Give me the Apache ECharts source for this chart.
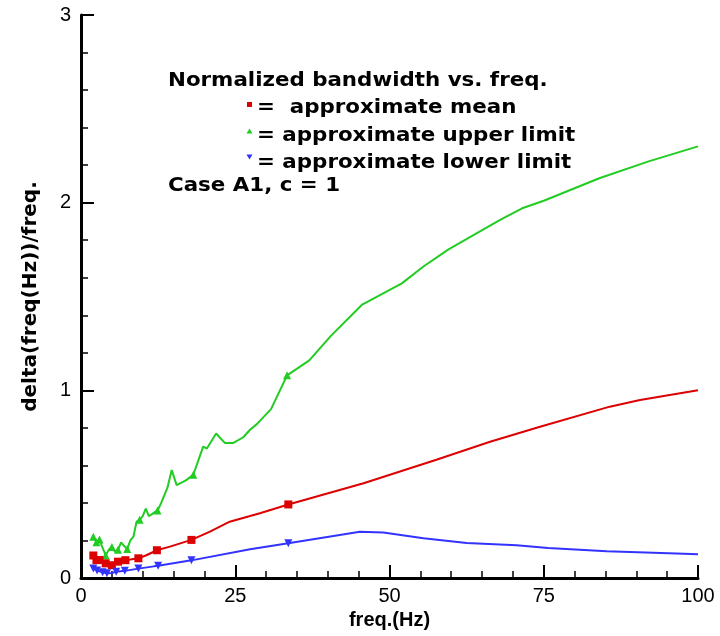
<!DOCTYPE html>
<html>
<head>
<meta charset="utf-8">
<script src="https://cdn.jsdelivr.net/npm/echarts@6/dist/echarts.min.js"></script>
<style>html,body{margin:0;padding:0;background:#fff}#c{width:720px;height:636px}</style>
</head>
<body>
<div id="c"></div>
<script>
// Upper limit (green)
var upperFreq = [2.0,2.5,3.0,3.5,4.0,4.5,5.0,5.5,6.0,6.5,7.0,7.5,8.0,8.5,9.0,9.5,10.0,10.5,11.0,11.5,12.4,13.0,14.0,14.7,15.5,17.0,18.2,19.8,20.4,21.9,23.3,24.7,26.3,27.4,28.5,30.8,33.4,37.0,40.5,45.5,52.0,55.5,59.5,68.0,71.5,75.0,84.0,92.0,100.0];
var upperVal  = [0.22,0.19,0.205,0.16,0.12,0.15,0.165,0.14,0.15,0.19,0.17,0.155,0.20,0.22,0.30,0.31,0.33,0.37,0.33,0.34,0.36,0.40,0.48,0.575,0.495,0.52,0.55,0.70,0.69,0.77,0.72,0.72,0.75,0.79,0.82,0.90,1.08,1.16,1.29,1.455,1.57,1.66,1.75,1.91,1.97,2.01,2.13,2.22,2.30];
var upperMarked = [2.0,2.5,3.0,4.0,5.0,6.0,7.5,9.5,12.4,18.2,33.4];
// Approximate mean (red)
var meanFreq = [2.0,2.5,3.0,3.5,4.0,4.5,5.0,5.5,6.0,6.5,7.2,8.0,9.3,10.5,12.3,14.4,17.9,20.9,24.1,27.4,29.0,33.6,45.8,57.6,66.3,74.4,85.7,90.6,100.0];
var meanVal  = [0.12,0.095,0.096,0.085,0.078,0.072,0.068,0.08,0.087,0.09,0.095,0.098,0.105,0.12,0.148,0.167,0.203,0.247,0.30,0.33,0.345,0.392,0.505,0.63,0.726,0.806,0.913,0.948,1.00];
var meanMarked = [2.0,2.5,3.0,4.0,5.0,6.0,7.2,9.3,12.3,17.9,33.6];
// Lower limit (blue)
var lowerFreq = [2.0,2.6,3.5,4.2,5.0,5.7,7.1,9.3,11.8,12.5,17.9,27.4,33.6,45.2,49.0,55.5,62.5,70.6,75.7,85.2,96.5,100.0];
var lowerVal  = [0.05,0.04,0.03,0.025,0.027,0.033,0.038,0.05,0.062,0.065,0.094,0.153,0.185,0.247,0.243,0.212,0.187,0.175,0.16,0.142,0.131,0.126];
var lowerMarked = [2.0,2.6,3.5,4.2,5.7,7.1,9.3,12.5,17.9,33.6];

var xTicks = [0,25,50,75,100];
var yTicks = [0,1,2,3];

function build(fr, vals, marked, sym) {
  return fr.map(function(f,i){
    return {value:[f, vals[i]], symbol: marked.indexOf(f) >= 0 ? sym : 'none'};
  });
}

var font = 'Liberation Sans, Arial, sans-serif';
var bfont = '"DejaVu Sans", sans-serif';
var lf = 'bold 19px ' + bfont;
var sx = 1.125;
var chart = echarts.init(document.getElementById('c'));
var axisCommon = {
  axisLine:{show:true, lineStyle:{color:'#000', width:3}},
  axisTick:{show:true, inside:true, length:13, lineStyle:{color:'#000', width:2}},
  minorTick:{show:true, splitNumber:5, length:7, lineStyle:{color:'#000', width:1.5}},
  splitLine:{show:false}
};
chart.setOption({
  animation:false,
  backgroundColor:'#fff',
  grid:{left:81, right:22, top:15, bottom:58, containLabel:false},
  xAxis: Object.assign({type:'value', min:xTicks[0], max:xTicks[xTicks.length-1], interval:25,
    name:'freq.(Hz)', nameLocation:'middle', nameGap:22,
    nameTextStyle:{color:'#000', fontSize:20, fontWeight:'bold', fontFamily:font}}, axisCommon,
    {axisLabel:{color:'#000', fontSize:20, fontFamily:font, margin:8}}),
  yAxis: Object.assign({type:'value', min:yTicks[0], max:yTicks[yTicks.length-1], interval:1,
    name:'delta(freq(Hz))/freq.', nameLocation:'middle', nameGap:40, nameRotate:90,
    nameTextStyle:{color:'#000', fontSize:20, fontWeight:'bold', fontFamily:bfont}}, axisCommon,
    {axisLabel:{color:'#000', fontSize:20, fontFamily:font, margin:10}}),
  series:[
    {type:'line', name:'upper', data:build(upperFreq, upperVal, upperMarked, 'triangle'),
     symbolSize:8, lineStyle:{color:'#22cc22', width:2}, itemStyle:{color:'#22cc22'}, z:3},
    {type:'line', name:'mean', data:build(meanFreq, meanVal, meanMarked, 'rect'),
     symbolSize:8, lineStyle:{color:'#dd0000', width:2}, itemStyle:{color:'#dd0000'}, z:4},
    {type:'line', name:'lower', data:build(lowerFreq, lowerVal, lowerMarked, 'path://M0,0L10,0L5,9Z'),
     symbolSize:8, lineStyle:{color:'#3333ff', width:2}, itemStyle:{color:'#3333ff'}, z:5}
  ],
  graphic:[
    {type:'text', left:168, top:72, scaleX:sx, style:{text:'Normalized bandwidth vs. freq.', font:lf, fill:'#000'}},
    {type:'rect', shape:{x:247, y:102, width:5, height:5}, style:{fill:'#dd0000'}},
    {type:'text', left:257, top:99, scaleX:sx, style:{text:'=  approximate mean', font:lf, fill:'#000'}},
    {type:'polygon', shape:{points:[[249.5,128.5],[252.5,133.5],[246.5,133.5]]}, style:{fill:'#22cc22'}},
    {type:'text', left:257, top:127, scaleX:sx, style:{text:'= approximate upper limit', font:lf, fill:'#000'}},
    {type:'polygon', shape:{points:[[246.5,154.5],[252.5,154.5],[249.5,159.5]]}, style:{fill:'#3333ff'}},
    {type:'text', left:257, top:154, scaleX:sx, style:{text:'= approximate lower limit', font:lf, fill:'#000'}},
    {type:'text', left:168, top:177, scaleX:sx, style:{text:'Case A1, c = 1', font:lf, fill:'#000'}}
  ]
});
</script>
</body>
</html>
